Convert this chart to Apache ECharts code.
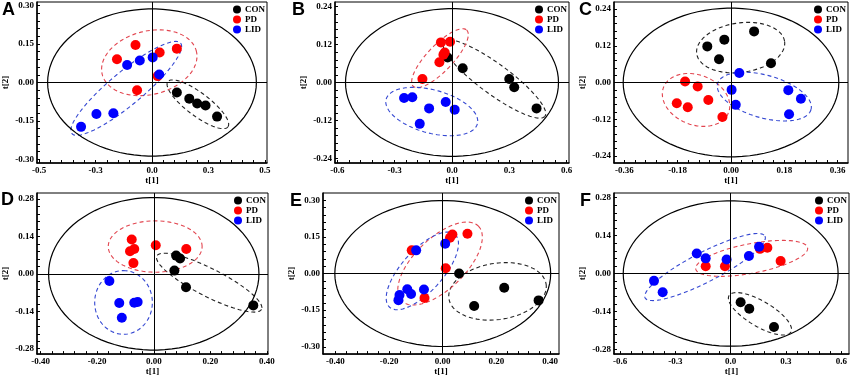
<!DOCTYPE html>
<html>
<head>
<meta charset="utf-8">
<script src="https://cdn.jsdelivr.net/npm/echarts@6/dist/echarts.min.js"></script>
<style>
  html, body { margin: 0; padding: 0; background: #fff; }
  #chart { width: 850px; height: 377px; }
</style>
</head>
<body>
<div id="chart"></div>
<script>
// score points [t1, t2] per panel and group
const conA = [[0.110, -0.039], [0.165, -0.063], [0.200, -0.082], [0.237, -0.090], [0.288, -0.133]]
const pdA = [[-0.155, 0.091], [-0.073, 0.146], [0.034, 0.117], [0.110, 0.132], [0.025, 0.025], [-0.066, -0.030]]
const lidA = [[-0.110, 0.068], [-0.054, 0.086], [0.003, 0.098], [0.032, 0.031], [-0.246, -0.123], [-0.171, -0.120], [-0.314, -0.173]]

const conB = [[-0.023, 0.079], [0.056, 0.045], [0.300, 0.011], [0.326, -0.015], [0.443, -0.082]]
const pdB = [[-0.058, 0.127], [-0.010, 0.129], [-0.038, 0.095], [-0.045, 0.088], [-0.066, 0.064], [-0.155, 0.011]]
const lidB = [[-0.251, -0.049], [-0.208, -0.047], [-0.120, -0.082], [-0.033, -0.062], [0.014, -0.086], [-0.169, -0.131]]

const conC = [[-0.080, 0.118], [-0.0225, 0.140], [-0.0405, 0.076], [0.078, 0.167], [0.135, 0.063]]
const pdC = [[-0.155, 0.003], [-0.1125, -0.013], [-0.183, -0.068], [-0.146, -0.081], [-0.0765, -0.057], [-0.029, -0.113]]
const lidC = [[0.028, 0.031], [0.002, -0.024], [0.016, -0.073], [0.1935, -0.025], [0.236, -0.053], [0.196, -0.104]]

const conD = [[0.079, 0.068], [0.093, 0.057], [0.073, 0.012], [0.114, -0.050], [0.352, -0.118]]
const pdD = [[-0.078, 0.128], [-0.084, 0.084], [-0.069, 0.093], [-0.072, 0.040], [0.007, 0.107], [0.115, 0.093]]
const lidD = [[-0.157, -0.027], [-0.122, -0.109], [-0.069, -0.108], [-0.057, -0.105], [-0.113, -0.164]]

const conE = [[0.061, 0.000], [0.229, -0.058], [0.357, -0.110], [0.117, -0.133]]
const pdE = [[0.036, 0.160], [0.027, 0.147], [0.092, 0.163], [-0.1155, 0.095], [0.011, 0.022], [-0.068, -0.100]]
const lidE = [[0.009, 0.122], [-0.099, 0.095], [-0.132, -0.064], [-0.118, -0.084], [-0.161, -0.088], [-0.165, -0.109], [-0.070, -0.065]]

const conF = [[0.054, -0.106], [0.101, -0.130], [0.235, -0.197]]
const pdF = [[-0.1355, 0.027], [-0.031, 0.027], [0.159, 0.091], [0.199, 0.095], [0.271, 0.046]]
const lidF = [[-0.184, 0.074], [-0.1355, 0.056], [-0.022, 0.052], [0.099, 0.065], [0.154, 0.099], [-0.416, -0.027], [-0.369, -0.069]]

// group ellipses: [centre t1, centre t2, major end t1, t2, minor end t1, t2] for CON, PD, LID
const ringA = [[0.203, -0.085, 0.336, -0.173, 0.173, -0.121], [-0.012, 0.077, 0.197, 0.120, -0.042, 0.198], [-0.114, -0.023, 0.127, 0.153, -0.069, -0.074]]
const ringB = [[0.222, 0.011, 0.487, -0.107, 0.174, -0.027], [-0.063, 0.077, 0.077, 0.166, -0.014, 0.049], [-0.106, -0.092, 0.133, -0.131, -0.136, -0.158]]
const ringC = [[0.0326, 0.114, 0.181, 0.134, 0.044, 0.034], [-0.118, -0.057, -0.009, -0.100, -0.151, -0.132], [0.1125, -0.046, 0.270, -0.089, 0.092, -0.113]]
const ringD = [[0.196, -0.033, 0.381, -0.133, 0.173, -0.079], [0.005, 0.102, 0.171, 0.102, 0.005, 0.198], [-0.107, -0.107, -0.107, 0.012, -0.005, -0.107]]
const ringE = [[0.204, -0.073, 0.385, -0.043, 0.220, -0.187], [-0.010, 0.041, 0.133, 0.194, 0.056, -0.033], [-0.076, 0.011, 0.046, 0.160, -0.019, -0.045]]
const ringF = [[0.159, -0.1485, 0.327, -0.2155, 0.125, -0.189], [0.114, 0.056, 0.4175, 0.095, 0.128, 0.0024], [-0.139, 0.024, 0.186, 0.138, -0.101, -0.024]]

// Hotelling T2 ellipse half-widths [t1, t2]
const t2A = [0.462, 0.287]
const t2B = [0.558, 0.234]
const t2C = [0.364, 0.243]
const t2D = [0.372, 0.285]
const t2E = [0.402, 0.299]
const t2F = [0.583, 0.268]

// axis extents
const xRangeA = [-0.509, 0.509], yRangeA = [-0.314, 0.314]
const xRangeB = [-0.613, 0.613], yRangeB = [-0.255, 0.255]
const xRangeC = [-0.395, 0.395], yRangeC = [-0.263, 0.263]
const xRangeD = [-0.413, 0.404], yRangeD = [-0.300, 0.302]
const xRangeE = [-0.446, 0.433], yRangeE = [-0.330, 0.330]
const xRangeF = [-0.633, 0.642], yRangeF = [-0.297, 0.297]

// tick values and their printed labels
const xTicksA = [-0.5, -0.25, 0, 0.25, 0.5], xLabelsA = ['-0.5', '-0.3', '0.0', '0.3', '0.5']
const yTicksA = [-0.3, -0.15, 0, 0.15, 0.3], yLabelsA = ['-0.30', '-0.15', '0.00', '0.15', '0.30']
const xTicksB = [-0.6, -0.3, 0, 0.3, 0.6], xLabelsB = ['-0.6', '-0.3', '0.0', '0.3', '0.6']
const yTicksB = [-0.24, -0.12, 0, 0.12, 0.24], yLabelsB = ['-0.24', '-0.12', '0.00', '0.12', '0.24']
const xTicksC = [-0.36, -0.18, 0, 0.18, 0.36], xLabelsC = ['-0.36', '-0.18', '0.00', '0.18', '0.36']
const yTicksC = [-0.24, -0.12, 0, 0.12, 0.24], yLabelsC = ['-0.24', '-0.12', '0.00', '0.12', '0.24']
const xTicksD = [-0.4, -0.2, 0, 0.2, 0.4], xLabelsD = ['-0.40', '-0.20', '0.00', '0.20', '0.40']
const yTicksD = [-0.28, -0.14, 0, 0.14, 0.28], yLabelsD = ['-0.28', '-0.14', '0.00', '0.14', '0.28']
const xTicksE = [-0.4, -0.2, 0, 0.2, 0.4], xLabelsE = ['-0.40', '-0.20', '0.00', '0.20', '0.40']
const yTicksE = [-0.3, -0.15, 0, 0.15, 0.3], yLabelsE = ['-0.30', '-0.15', '0.00', '0.15', '0.30']
const xTicksF = [-0.6, -0.3, 0, 0.3, 0.6], xLabelsF = ['-0.6', '-0.3', '0.0', '0.3', '0.6']
const yTicksF = [-0.28, -0.14, 0, 0.14, 0.28], yLabelsF = ['-0.28', '-0.14', '0.00', '0.14', '0.28']

const groups = ['CON', 'PD', 'LID']
const dotColors = ['#000000', '#ff0000', '#0000ff']
const ringColors = ['#222222', '#e2454f', '#3548d2', '#000000']

const panels = [
  { tag: 'A', tagAt: [2, 1], box: [35, 2, 232, 161], pts: [conA, pdA, lidA], ring: ringA, t2: t2A, xr: xRangeA, yr: yRangeA, xt: xTicksA, xl: xLabelsA, yt: yTicksA, yl: yLabelsA },
  { tag: 'B', tagAt: [292, 1], box: [335, 2, 234, 161], pts: [conB, pdB, lidB], ring: ringB, t2: t2B, xr: xRangeB, yr: yRangeB, xt: xTicksB, xl: xLabelsB, yt: yTicksB, yl: yLabelsB },
  { tag: 'C', tagAt: [579, 1], box: [614, 2, 234, 161], pts: [conC, pdC, lidC], ring: ringC, t2: t2C, xr: xRangeC, yr: yRangeC, xt: xTicksC, xl: xLabelsC, yt: yTicksC, yl: yLabelsC },
  { tag: 'D', tagAt: [1, 191], box: [34, 193, 234, 162], pts: [conD, pdD, lidD], ring: ringD, t2: t2D, xr: xRangeD, yr: yRangeD, xt: xTicksD, xl: xLabelsD, yt: yTicksD, yl: yLabelsD },
  { tag: 'E', tagAt: [290, 192], box: [323, 193, 236, 162], pts: [conE, pdE, lidE], ring: ringE, t2: t2E, xr: xRangeE, yr: yRangeE, xt: xTicksE, xl: xLabelsE, yt: yTicksE, yl: yLabelsE },
  { tag: 'F', tagAt: [580, 192], box: [614, 193, 235, 162], pts: [conF, pdF, lidF], ring: ringF, t2: t2F, xr: xRangeF, yr: yRangeF, xt: xTicksF, xl: xLabelsF, yt: yTicksF, yl: yLabelsF },
]

const serif = { fontFamily: 'Liberation Serif', fontWeight: 'bold', fontSize: 9, color: '#000' }

// minor ticks: 5 steps between printed ticks
const minorTicks = (major) => {
  const out = []
  for (let i = 0; i < major.length - 1; i++) {
    const step = (major[i + 1] - major[i]) / 5
    for (let k = 0; k < 5; k++) out.push(+(major[i] + step * k).toFixed(4))
  }
  out.push(major[major.length - 1])
  return out
}

const labelOf = (ticks, labels) => (v) => {
  let best = 0
  ticks.forEach((t, i) => { if (Math.abs(t - v) < Math.abs(ticks[best] - v)) best = i })
  return labels[best]
}

const makeAxis = (p, i, dim) => {
  const isX = dim === 'x'
  const ticks = isX ? p.xt : p.yt
  const labels = isX ? p.xl : p.yl
  const range = isX ? p.xr : p.yr
  return {
    type: 'value',
    gridIndex: i,
    min: range[0],
    max: range[1],
    name: isX ? 't[1]' : 't[2]',
    nameLocation: 'middle',
    nameGap: isX ? 12 : 27,
    nameTextStyle: serif,
    axisLine: { show: true, onZero: false, lineStyle: { color: '#000', width: 1.5 } },
    axisTick: { show: true, inside: true, length: 3, customValues: minorTicks(ticks), lineStyle: { color: '#000', width: 1 } },
    axisLabel: { show: true, margin: 3, customValues: ticks, formatter: labelOf(ticks, labels), ...serif },
    splitLine: { show: false },
  }
}

// ellipse through centre + conjugate half-axes, drawn via the axis scales
const ringItem = (params, api) => {
  const cx = api.value(0), cy = api.value(1)
  const px = api.value(2) - cx, py = api.value(3) - cy
  const qx = api.value(4) - cx, qy = api.value(5) - cy
  const kind = api.value(6)
  const pts = []
  for (let k = 0; k <= 90; k++) {
    const a = (k / 90) * Math.PI * 2
    pts.push(api.coord([cx + px * Math.cos(a) + qx * Math.sin(a), cy + py * Math.cos(a) + qy * Math.sin(a)]))
  }
  return {
    type: 'polyline',
    shape: { points: pts },
    style: {
      fill: 'none',
      stroke: ringColors[kind],
      lineWidth: kind === 3 ? 1.2 : 1.1,
      lineDash: kind === 3 ? null : [4, 3],
    },
  }
}

const grid = [], xAxis = [], yAxis = [], series = [], legend = [], title = []

panels.forEach((p, i) => {
  const [left, top, width, height] = p.box
  grid.push({ left, top, width, height, show: true, borderColor: '#000', borderWidth: 1 })
  xAxis.push(makeAxis(p, i, 'x'))
  yAxis.push(makeAxis(p, i, 'y'))

  const rings = p.ring.map((r, k) => [...r, k])
  rings.push([0, 0, p.t2[0], 0, 0, p.t2[1], 3])
  series.push({
    type: 'custom',
    xAxisIndex: i,
    yAxisIndex: i,
    data: rings,
    encode: { x: 0, y: 1 },
    renderItem: ringItem,
    silent: true,
    z: 1,
    markLine: {
      silent: true,
      symbol: 'none',
      label: { show: false },
      lineStyle: { color: '#000', type: 'solid', width: 1 },
      data: [{ xAxis: 0 }, { yAxis: 0 }],
    },
  })

  groups.forEach((g, k) => {
    series.push({
      type: 'scatter',
      name: g,
      xAxisIndex: i,
      yAxisIndex: i,
      data: p.pts[k],
      symbol: 'circle',
      symbolSize: 10,
      itemStyle: { color: dotColors[k], opacity: 1 },
      z: 3,
    })
  })

  legend.push({
    data: groups,
    orient: 'vertical',
    left: left + width - 34,
    top: top + 3,
    icon: 'circle',
    itemWidth: 8,
    itemHeight: 8,
    itemGap: 1,
    padding: 0,
    selectedMode: false,
    textStyle: { ...serif, lineHeight: 8, padding: [0, 0, 0, -1] },
  })

  title.push({
    text: p.tag,
    left: p.tagAt[0],
    top: p.tagAt[1],
    padding: 0,
    textStyle: { fontFamily: 'Liberation Sans', fontWeight: 'bold', fontSize: 18, color: '#000' },
  })
})

const chart = echarts.init(document.getElementById('chart'))
chart.setOption({
  animation: false,
  backgroundColor: '#fff',
  title,
  grid,
  xAxis,
  yAxis,
  legend,
  series,
})
</script>
</body>
</html>
